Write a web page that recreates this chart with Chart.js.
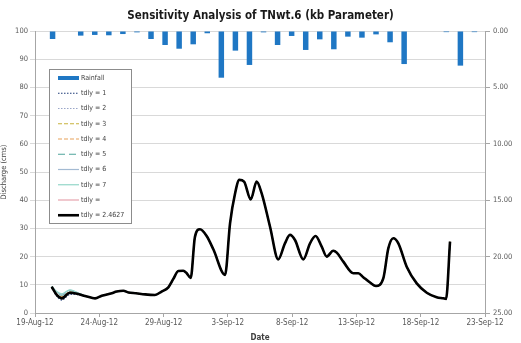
<!DOCTYPE html>
<html>
<head>
<meta charset="utf-8">
<script src="https://cdn.jsdelivr.net/npm/chart.js@4.4.1/dist/chart.umd.min.js"></script>
<style>
    html, body { margin: 0; padding: 0; background: #fff; }
    #wrap { width: 521px; height: 343px; }
</style>
</head>
<body>
<div id="wrap"><canvas id="chart" width="521" height="343"></canvas></div>
<script>
const FONT = "'Liberation Sans Narrow', 'DejaVu Sans Condensed', 'Liberation Sans', sans-serif";

// axe des dates (jours depuis le 19-Aug-12)
const dateTicks = ['19-Aug-12', '24-Aug-12', '29-Aug-12', '3-Sep-12', '8-Sep-12', '13-Sep-12', '18-Sep-12', '23-Sep-12'];
const dayTicks = [0, 5, 10, 15, 20, 25, 30, 35];

// pluie journalière (axe de droite, inversé)
const rainDays = ['19-Aug', '20-Aug', '21-Aug', '22-Aug', '23-Aug', '24-Aug', '25-Aug', '26-Aug', '27-Aug', '28-Aug',
    '29-Aug', '30-Aug', '31-Aug', '1-Sep', '2-Sep', '3-Sep', '4-Sep', '5-Sep', '6-Sep', '7-Sep',
    '8-Sep', '9-Sep', '10-Sep', '11-Sep', '12-Sep', '13-Sep', '14-Sep', '15-Sep', '16-Sep', '17-Sep',
    '18-Sep', '19-Sep'];
const rainfall = [0, 0.71, 0, 0.41, 0.35, 0.38, 0.27, 0.12, 0.71, 1.24,
    1.57, 1.18, 0.2, 4.14, 1.74, 3.01, 0.12, 1.24, 0.44, 1.68,
    0.74, 1.62, 0.5, 0.59, 0.3, 1.0, 2.93, 0, 0, 0.1,
    3.07, 0.1];

// débit simulé (axe de gauche)
const flowDays = [1.30, 1.69, 2.08, 2.72, 3.37, 3.89, 4.41, 4.67, 5.19, 5.97,
    6.35, 6.87, 7.26, 7.86, 8.56, 9.33, 9.85, 10.37, 10.76, 11.15,
    11.53, 11.80, 12.11, 12.44, 12.83, 13.35, 13.87, 14.78, 15.17, 15.56,
    15.89, 16.26, 16.78, 17.24, 17.63, 18.28, 18.92, 19.44, 19.83, 20.22,
    20.87, 21.39, 21.82, 22.30, 22.69, 23.20, 23.47, 23.98, 24.76, 25.15,
    25.53, 26.06, 26.52, 27.09, 27.48, 27.87, 28.26, 28.91, 29.69, 30.47,
    31.24, 31.76, 31.97, 32.28];
const flowBest = [9.3, 6.4, 5.2, 7.2, 6.7, 6.0, 5.4, 5.2, 6.1, 7.0,
    7.6, 7.9, 7.3, 7.0, 6.6, 6.4, 7.6, 9.1, 12.1, 14.9,
    15.0, 14.1, 12.4, 27.0, 29.7, 27.3, 22.6, 13.5, 31.8, 42.4,
    47.2, 46.6, 40.3, 46.6, 42.4, 30.6, 19.0, 24.7, 27.7, 25.9,
    19.0, 24.7, 27.3, 23.5, 20.0, 22.1, 21.4, 18.2, 14.1, 14.1,
    12.7, 10.8, 9.6, 12.3, 22.9, 26.5, 24.7, 16.4, 10.5, 7.2,
    5.6, 5.2, 5.0, 25.3];
// les autres tdly ne diffèrent qu'au début
const flowTail = flowBest.slice(6);
const tdly1 = [9.0, 6.0, 4.6, 6.6, 6.5, 6.0, ...flowTail];
const tdly2 = [9.1, 6.2, 4.9, 6.9, 6.6, 6.0, ...flowTail];
const tdly3 = [9.2, 6.6, 5.6, 7.4, 6.8, 6.0, ...flowTail];
const tdly4 = [9.2, 6.8, 5.8, 7.6, 6.9, 6.0, ...flowTail];
const tdly5 = [9.4, 7.2, 6.3, 7.9, 7.0, 6.1, ...flowTail];
const tdly6 = [9.4, 7.4, 6.6, 8.1, 7.1, 6.1, ...flowTail];
const tdly7 = [9.5, 7.6, 6.8, 8.2, 7.1, 6.1, ...flowTail];
const tdlyX = [9.3, 6.5, 5.3, 7.2, 6.7, 6.0, ...flowTail];

function pts(ys) {
    return ys.map((y, i) => ({ x: flowDays[i], y: y }));
}

function lineSet(label, data, color, width, dash, order) {
    return {
        type: 'line',
        label: label,
        data: pts(data),
        xAxisID: 'x',
        yAxisID: 'y',
        borderColor: color,
        backgroundColor: color,
        borderWidth: width,
        borderDash: dash,
        pointRadius: 0,
        cubicInterpolationMode: 'monotone',
        fill: false,
        order: order
    };
}

// légende dessinée dans la zone du graphique
const boxLegend = {
    id: 'boxLegend',
    afterDraw(chart) {
        const ctx = chart.ctx;
        ctx.save();
        ctx.fillStyle = '#fff';
        ctx.strokeStyle = '#8c8c8c';
        ctx.lineWidth = 1;
        ctx.fillRect(49.5, 69.5, 82, 154);
        ctx.strokeRect(49.5, 69.5, 82, 154);
        ctx.font = '7px ' + FONT;
        ctx.textBaseline = 'middle';
        chart.data.datasets.forEach((ds, i) => {
            const y = 78 + i * 15.25;
            ctx.beginPath();
            ctx.strokeStyle = ds.borderColor || ds.backgroundColor;
            if (ds.type === 'bar') {
                ctx.strokeStyle = ds.backgroundColor;
                ctx.lineWidth = 4;
                ctx.setLineDash([]);
            } else {
                ctx.lineWidth = ds.borderWidth;
                ctx.setLineDash(ds.borderDash || []);
            }
            ctx.moveTo(58, y);
            ctx.lineTo(79, y);
            ctx.stroke();
            ctx.setLineDash([]);
            ctx.fillStyle = '#404040';
            ctx.fillText(ds.label, 81, y);
        });
        ctx.restore();
    }
};

new Chart(document.getElementById('chart'), {
    data: {
        datasets: [
            {
                type: 'bar',
                label: 'Rainfall',
                data: rainfall,
                xAxisID: 'xRain',
                yAxisID: 'y2',
                backgroundColor: '#1f77c4',
                barPercentage: 0.78,
                categoryPercentage: 1,
                order: 20
            },
            lineSet('tdly = 1', tdly1, '#1f3c78', 1.2, [1.5, 1.5], 8),
            lineSet('tdly = 2', tdly2, '#9aa6c8', 1.2, [1.5, 1.5], 7),
            lineSet('tdly = 3', tdly3, '#c7b23c', 1.2, [4, 2], 6),
            lineSet('tdly = 4', tdly4, '#e8a25a', 1.2, [4, 2], 5),
            lineSet('tdly = 5', tdly5, '#4fa59c', 1.2, [7, 4], 4),
            lineSet('tdly = 6', tdly6, '#a3bad2', 1.2, [], 3),
            lineSet('tdly = 7', tdly7, '#93d6c8', 1.2, [], 2),
            lineSet('tdly =', tdlyX, '#e6a3ad', 1.2, [], 1),
            lineSet('tdly = 2.4627', flowBest, '#000000', 2.6, [], 0)
        ]
    },
    options: {
        responsive: false,
        animation: false,
        layout: { padding: { left: 0, right: 0, top: 0, bottom: 0 } },
        plugins: {
            legend: { display: false },
            tooltip: { enabled: false },
            title: {
                display: true,
                text: 'Sensitivity Analysis of TNwt.6 (kb Parameter)',
                color: '#1a1a1a',
                font: { family: FONT, size: 11.5, weight: 'bold', lineHeight: 1.2 },
                padding: { top: 9, bottom: 8.2 }
            }
        },
        scales: {
            x: {
                type: 'linear',
                min: 0,
                max: 35,
                afterBuildTicks(scale) {
                    scale.ticks = dayTicks.map(v => ({ value: v }));
                },
                afterFit(scale) { scale.height = 30; },
                ticks: {
                    autoSkip: false,
                    maxRotation: 0,
                    padding: 1,
                    color: '#595959',
                    font: { family: FONT, size: 8 },
                    callback: (v) => dateTicks[dayTicks.indexOf(v)]
                },
                grid: { drawOnChartArea: false, tickLength: 4, color: '#a6a6a6' },
                border: { color: '#a6a6a6' },
                title: {
                    display: true,
                    text: 'Date',
                    color: '#404040',
                    padding: 0,
                    font: { family: FONT, size: 8, weight: 'bold' }
                }
            },
            xRain: {
                type: 'category',
                labels: rainDays,
                offset: true,
                display: false
            },
            y: {
                position: 'left',
                min: 0,
                max: 100,
                afterFit(scale) { scale.width = 35; },
                ticks: {
                    stepSize: 10,
                    padding: 2,
                    color: '#595959',
                    font: { family: FONT, size: 7.5 }
                },
                grid: { color: '#d9d9d9', tickLength: 5 },
                border: { color: '#a6a6a6' },
                title: {
                    display: true,
                    text: 'Discharge (cms)',
                    color: '#404040',
                    padding: 0,
                    font: { family: FONT, size: 7.5 }
                }
            },
            y2: {
                position: 'right',
                reverse: true,
                min: 0,
                max: 25,
                afterFit(scale) { scale.width = 36; },
                ticks: {
                    stepSize: 5,
                    padding: 3,
                    color: '#595959',
                    font: { family: FONT, size: 7.5 },
                    callback: (v) => v.toFixed(2)
                },
                grid: { drawOnChartArea: false, tickLength: 5, color: '#a6a6a6' },
                border: { color: '#a6a6a6' }
            }
        }
    },
    plugins: [boxLegend]
});
</script>
</body>
</html>
